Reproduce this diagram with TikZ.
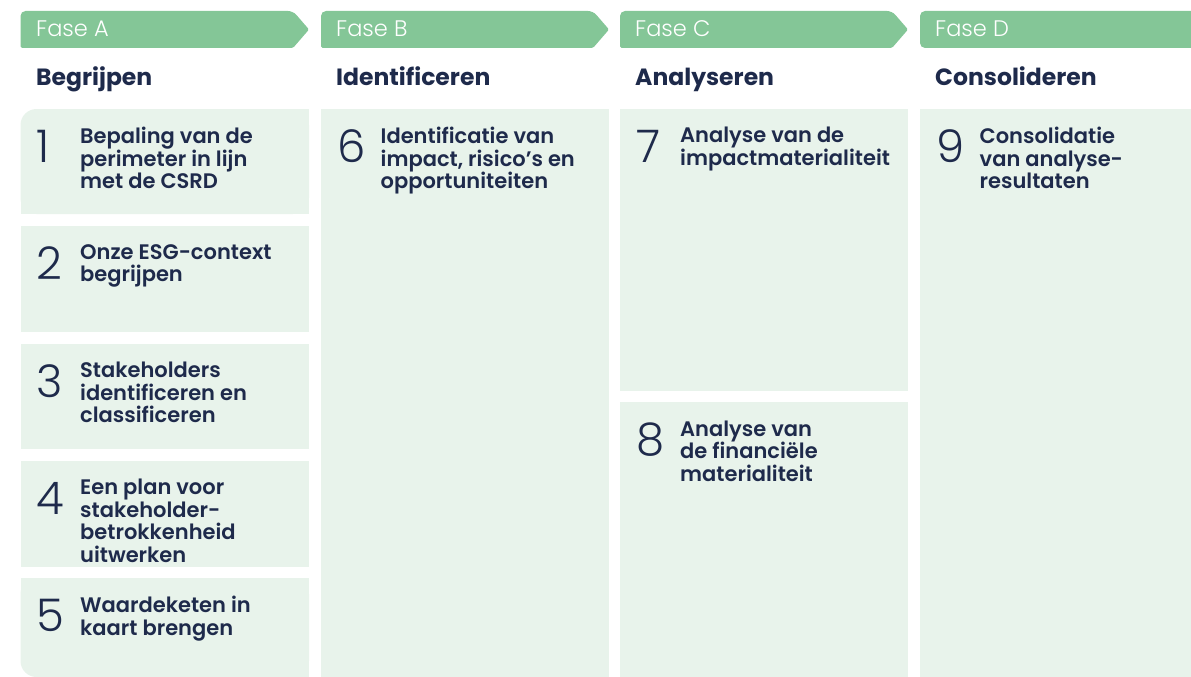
\documentclass[tikz,border=0pt]{standalone}
\usepackage{fontspec}
\setmainfont{Poppins}
\newfontfamily\faselight{Poppins Light}
\newfontfamily\fasesemi{Poppins SemiBold}
\newfontfamily\fasebold{Poppins Bold}
\usepackage{tikz}
\usetikzlibrary{positioning}
\definecolor{fasegreen}{HTML}{84C697}
\definecolor{boxgreen}{HTML}{E8F3EB}
\definecolor{navy}{HTML}{1E2A4B}
\tikzstyle{fasebar} = [fill=fasegreen]
\tikzstyle{stepfill} = [fill=boxgreen]
\tikzstyle{fasetext} = [inner sep=0pt,anchor=base west,text=white,font=\faselight\fontsize{22.5}{26}\selectfont]
\tikzstyle{fasetitle} = [inner sep=0pt,anchor=base west,text=navy,font=\fasebold\fontsize{23.5}{27}\selectfont]
\tikzstyle{stepnum} = [inner sep=0pt,anchor=base west,text=navy,font=\faselight\fontsize{45}{50}\selectfont]
\tikzstyle{steptext} = [inner sep=0pt,anchor=north west,align=left,text=navy,font=\fasesemi\fontsize{21}{22.5}\selectfont]

\begin{document}
\begin{tikzpicture}[x=1pt,y=-1pt]
  \useasboundingbox (0,0) rectangle (1191,677);
  \clip (0,0) rectangle (1191,677);
  % fase headers
  \fill[fasebar,rounded corners=5pt] (20.5,48) -- (20.5,11) -- (293,11) [rounded corners=1.5pt] -- (309,29.5) -- (293,48) -- cycle;
  \fill[fasebar,rounded corners=5pt] (321,48) -- (321,11) -- (593,11) [rounded corners=1.5pt] -- (609,29.5) -- (593,48) -- cycle;
  \fill[fasebar,rounded corners=5pt] (620,48) -- (620,11) -- (892,11) [rounded corners=1.5pt] -- (908,29.5) -- (892,48) -- cycle;
  \fill[fasebar,rounded corners=5pt] (920,48) -- (920,11) -- (1200,11) -- (1200,48) -- cycle;
  \node[fasetext] (faseA) at (36,37) {Fase A};
  \node[fasetext] (faseB) at (336,37) {Fase B};
  \node[fasetext] (faseC) at (635,37) {Fase C};
  \node[fasetext] (faseD) at (935,37) {Fase D};
  \node[fasetitle] (titleA) at (36,85) {Begrijpen};
  \node[fasetitle] (titleB) at (336,85) {Identificeren};
  \node[fasetitle] (titleC) at (635,85) {Analyseren};
  \node[fasetitle] (titleD) at (935,85) {Consolideren};
  % step boxes (first and last one with one round corner)
  \fill[stepfill,rounded corners=16pt] (20.5,109) rectangle (309,214);
  \fill[stepfill] (20.5,140) rectangle (309,214);
  \fill[stepfill] (60,109) rectangle (309,214);
  \fill[stepfill] (20.5,226) rectangle (309,331.5);
  \fill[stepfill] (20.5,344) rectangle (309,449);
  \fill[stepfill] (20.5,461) rectangle (309,566.5);
  \fill[stepfill,rounded corners=16pt] (20.5,578) rectangle (309,677);
  \fill[stepfill] (20.5,578) rectangle (309,640);
  \fill[stepfill] (60,578) rectangle (309,677);
  \fill[stepfill] (321,109) rectangle (608.5,677);
  \fill[stepfill] (620,109) rectangle (907.7,390.7);
  \fill[stepfill] (620,402.3) rectangle (907.7,677);
  \fill[stepfill] (920,109) rectangle (1200,677);
  % step numbers and texts
  \node[stepnum] (n1) at (36.5,162) {1};
  \node[steptext] (s1) at (80,127) {Bepaling van de\\perimeter in lijn\\met de CSRD};
  \node[stepnum] (n2) at (36.5,279) {2};
  \node[steptext] (s2) at (80,244) {Onze ESG-context\\begrijpen};
  \node[stepnum] (n3) at (36.5,397) {3};
  \node[steptext] (s3) at (80,362) {Stakeholders\\identificeren en\\classificeren};
  \node[stepnum] (n4) at (36.5,514) {4};
  \node[steptext] (s4) at (80,479) {Een plan voor\\stakeholder-\\betrokkenheid\\uitwerken};
  \node[stepnum] (n5) at (36.5,631) {5};
  \node[steptext] (s5) at (80,596) {Waardeketen in\\kaart brengen};
  \node[stepnum] (n6) at (337,162) {6};
  \node[steptext] (s6) at (380.5,127) {Identificatie van\\impact, risico’s en\\opportuniteiten};
  \node[stepnum] (n7) at (636,162) {7};
  \node[steptext] (s7) at (680,127) {Analyse van de\\impactmaterialiteit};
  \node[stepnum] (n8) at (636,455.3) {8};
  \node[steptext] (s8) at (680,420.3) {Analyse van\\de financiële\\materialiteit};
  \node[stepnum] (n9) at (936,162) {9};
  \node[steptext] (s9) at (979.5,127) {Consolidatie\\van analyse-\\resultaten};
\end{tikzpicture}
\end{document}
